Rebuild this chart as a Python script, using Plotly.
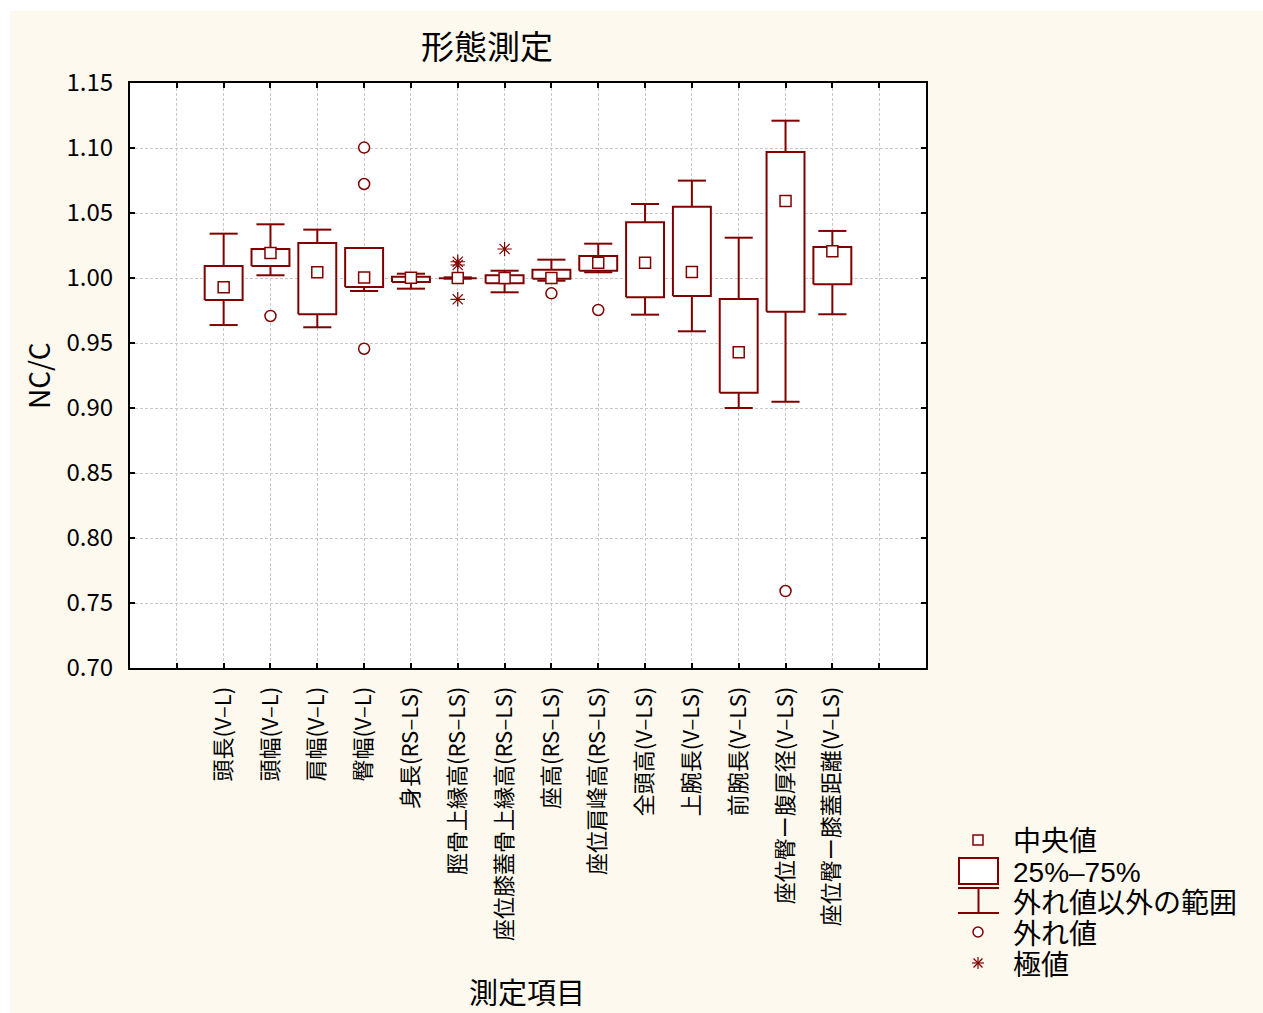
import plotly.graph_objects as go

# Measured items and their box-plot statistics (NC/C ratio)
categories = [
    "頭長(V–L)", "頭幅(V–L)", "肩幅(V–L)", "臀幅(V–L)",
    "身長(RS–LS)", "脛骨上縁高(RS–LS)", "座位膝蓋骨上縁高(RS–LS)",
    "座高(RS–LS)", "座位肩峰高(RS–LS)", "全頭高(V–LS)", "上腕長(V–LS)",
    "前腕長(V–LS)", "座位臀ー腹厚径(V–LS)", "座位臀ー膝蓋距離(V–LS)",
]
whisker_low = [0.9638, 1.0021, 0.9621, 0.9900, 0.9918, 0.9995, 0.9890,
               0.9979, 1.0044, 0.9718, 0.9590, 0.9000, 0.9048, 0.9721]
q1 = [0.9831, 1.0092, 0.9721, 0.9931, 0.9969, 0.9998, 0.9959,
      0.9995, 1.0056, 0.9851, 0.9862, 0.9118, 0.9741, 0.9952]
median = [0.9928, 1.0192, 1.0044, 1.0003, 1.0002, 1.0000, 1.0000,
          1.0000, 1.0118, 1.0118, 1.0046, 0.9428, 1.0592, 1.0205]
q3 = [1.0092, 1.0223, 1.0269, 1.0231, 1.0010, 1.0002, 1.0021,
      1.0064, 1.0169, 1.0428, 1.0549, 0.9838, 1.0969, 1.0238]
whisker_high = [1.0341, 1.0413, 1.0372, 1.0231, 1.0033, 1.0005, 1.0056,
                1.0141, 1.0264, 1.0569, 1.0749, 1.0310, 1.1210, 1.0362]

# Outliers and extreme values: (category, value)
outliers = [("頭幅(V–L)", 0.9708), ("臀幅(V–L)", 1.1003), ("臀幅(V–L)", 1.0723),
            ("臀幅(V–L)", 0.9456), ("座高(RS–LS)", 0.9882),
            ("座位肩峰高(RS–LS)", 0.9754), ("座位臀ー腹厚径(V–LS)", 0.7592)]
extremes = [("脛骨上縁高(RS–LS)", 1.0125), ("脛骨上縁高(RS–LS)", 1.0100),
            ("脛骨上縁高(RS–LS)", 0.9836), ("座位膝蓋骨上縁高(RS–LS)", 1.0223)]

y_ticks = [0.70, 0.75, 0.80, 0.85, 0.90, 0.95, 1.00, 1.05, 1.10, 1.15]

legend_labels = ["中央値", "25%–75%", "外れ値以外の範囲", "外れ値", "極値"]

DARK_RED = "#800000"
FONT = "Noto Sans CJK JP"
LEGEND_FONT = "Liberation Sans, Noto Sans CJK JP"
BOX_HALF = 0.405
CAP_HALF = 0.30

# category position on the numeric x axis (one empty slot on each side)
pos = {c: i + 2 for i, c in enumerate(categories)}
xs = [pos[c] for c in categories]

# Layout geometry (pixels)
W, H = 1263, 1013
L, R, T, B = 130, 926, 83, 668
PW, PH = R - L, B - T


def px(p):
    return (p - L) / PW


def py(p):
    return (B - p) / PH


fig = go.Figure()

# boxes
bx, by = [], []
for x, lo, hi in zip(xs, q1, q3):
    bx += [x - BOX_HALF, x + BOX_HALF, x + BOX_HALF, x - BOX_HALF, x - BOX_HALF, None]
    by += [lo, lo, hi, hi, lo, None]
fig.add_trace(go.Scatter(x=bx, y=by, mode="lines", fill="toself", fillcolor="white",
                         line=dict(color=DARK_RED, width=2), hoverinfo="skip",
                         showlegend=False))

# whiskers with caps
wx, wy = [], []
for x, lo, a, b, hi in zip(xs, whisker_low, q1, q3, whisker_high):
    wx += [x, x, None, x - CAP_HALF, x + CAP_HALF, None]
    wy += [b, hi, None, hi, hi, None]
    wx += [x, x, None, x - CAP_HALF, x + CAP_HALF, None]
    wy += [a, lo, None, lo, lo, None]
fig.add_trace(go.Scatter(x=wx, y=wy, mode="lines",
                         line=dict(color=DARK_RED, width=2), hoverinfo="skip",
                         showlegend=False))

# medians
fig.add_trace(go.Scatter(x=xs, y=median, mode="markers",
                         marker=dict(symbol="square", size=11, color="white",
                                     line=dict(color=DARK_RED, width=1.5)),
                         showlegend=False))

# outliers
fig.add_trace(go.Scatter(x=[pos[c] for c, _ in outliers], y=[v for _, v in outliers],
                         mode="markers",
                         marker=dict(symbol="circle", size=11, color="white",
                                     line=dict(color=DARK_RED, width=1.5)),
                         showlegend=False, cliponaxis=False))

# extremes
fig.add_trace(go.Scatter(x=[pos[c] for c, _ in extremes], y=[v for _, v in extremes],
                         mode="markers",
                         marker=dict(symbol="asterisk-open", size=12, color=DARK_RED,
                                     line=dict(color=DARK_RED, width=1.2)),
                         showlegend=False, cliponaxis=False))

# legend key (drawn with shapes in pixel-derived paper coordinates)
leg_x = 978
leg_y = [840, 872, 902, 932, 963]


def ln(x0, y0, x1, y1, w=2):
    return dict(type="line", xref="paper", yref="paper", x0=px(x0), x1=px(x1),
                y0=py(y0), y1=py(y1), line=dict(color=DARK_RED, width=w))


shapes = [
    # white outer strips
    dict(type="rect", xref="paper", yref="paper", x0=px(0), x1=px(W), y0=py(0), y1=py(11),
         fillcolor="white", line=dict(width=0), layer="below"),
    dict(type="rect", xref="paper", yref="paper", x0=px(0), x1=px(10), y0=py(0), y1=py(H),
         fillcolor="white", line=dict(width=0), layer="below"),
    # median square
    dict(type="rect", xref="paper", yref="paper", x0=px(leg_x - 5), x1=px(leg_x + 5),
         y0=py(leg_y[0] + 5), y1=py(leg_y[0] - 5), line=dict(color=DARK_RED, width=1.5),
         fillcolor="white"),
    # box
    dict(type="rect", xref="paper", yref="paper", x0=px(959), x1=px(998),
         y0=py(884), y1=py(858), line=dict(color=DARK_RED, width=2), fillcolor="white"),
    # whisker range
    ln(958, 888, 999, 888), ln(978.5, 888, 978.5, 913), ln(958, 913, 999, 913),
    # outlier circle
    dict(type="circle", xref="paper", yref="paper", x0=px(leg_x - 5), x1=px(leg_x + 5),
         y0=py(leg_y[3] + 5), y1=py(leg_y[3] - 5), line=dict(color=DARK_RED, width=1.5),
         fillcolor="white"),
    # extreme asterisk
    ln(leg_x, leg_y[4] - 6, leg_x, leg_y[4] + 6, 1.2),
    ln(leg_x - 6, leg_y[4], leg_x + 6, leg_y[4], 1.2),
    ln(leg_x - 4.5, leg_y[4] - 4.5, leg_x + 4.5, leg_y[4] + 4.5, 1.2),
    ln(leg_x - 4.5, leg_y[4] + 4.5, leg_x + 4.5, leg_y[4] - 4.5, 1.2),
]

legend_text = "<br>".join(
    f"<span style='font-size:28px'>{t}</span>" for t in legend_labels)

annotations = [
    dict(text="形態測定", x=px(487), y=py(45), xref="paper", yref="paper",
         showarrow=False, font=dict(family=FONT, size=33, color="black"),
         xanchor="center", yanchor="middle"),
    dict(text="測定項目", x=px(527), y=py(991), xref="paper", yref="paper",
         showarrow=False, font=dict(family=FONT, size=29, color="black"),
         xanchor="center", yanchor="middle"),
    dict(text="NC/C", x=px(38), y=py(376), xref="paper", yref="paper",
         showarrow=False, textangle=-90, font=dict(family=FONT, size=28, color="black"),
         xanchor="center", yanchor="middle"),
    dict(text=legend_text, x=px(1011), y=py(leg_y[0] - 16), xref="paper", yref="paper",
         showarrow=False, xanchor="left", yanchor="top", align="left",
         font=dict(family=LEGEND_FONT, size=23.8, color="black")),
]

tick_vals = list(range(1, len(categories) + 3))
tick_text = [""] + categories + [""]

fig.update_layout(
    width=W, height=H,
    margin=dict(l=L, r=W - R, t=T, b=H - B, autoexpand=False),
    paper_bgcolor="#FEF9EE",
    plot_bgcolor="white",
    font=dict(family=FONT, color="black"),
    shapes=shapes,
    annotations=annotations,
    xaxis=dict(range=[0, len(categories) + 3], tickvals=tick_vals, ticktext=tick_text,
               tickangle=-90, tickfont=dict(family=FONT, size=22),
               showline=True, linecolor="black", linewidth=2, mirror="ticks",
               ticks="inside", ticklen=5, tickwidth=2, tickcolor="black",
               showgrid=True, gridcolor="#C8C8C8", gridwidth=1, griddash="3px,2px",
               zeroline=False, ticklabelstandoff=8),
    yaxis=dict(range=[0.70, 1.15], tickvals=y_ticks, tickformat=".2f",
               tickfont=dict(family=FONT, size=24),
               showline=True, linecolor="black", linewidth=2, mirror="ticks",
               ticks="inside", ticklen=5, tickwidth=2, tickcolor="black",
               showgrid=True, gridcolor="#C8C8C8", gridwidth=1, griddash="3px,2px",
               zeroline=False, ticklabelstandoff=10),
)

fig.write_html("out.html")
